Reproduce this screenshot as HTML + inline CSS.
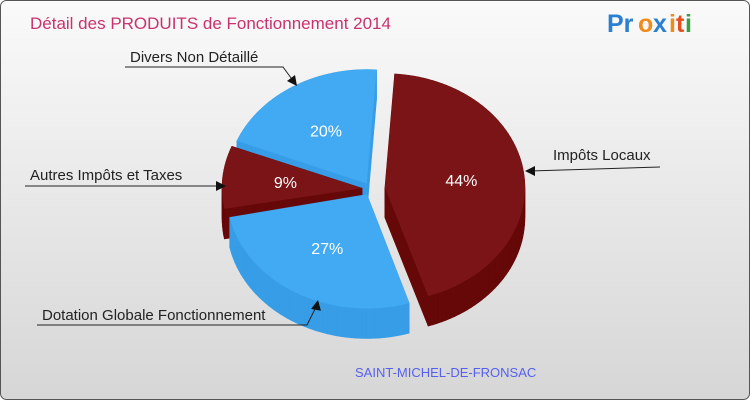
<!DOCTYPE html>
<html><head><meta charset="utf-8"><style>
html,body{margin:0;padding:0}
body{width:750px;height:400px;overflow:hidden;font-family:"Liberation Sans","DejaVu Sans",sans-serif}
</style></head><body>
<svg id="c" width="750" height="400" viewBox="0 0 750 400" xmlns="http://www.w3.org/2000/svg">
<defs><linearGradient id="bg" x1="0" y1="0" x2="0" y2="1"><stop offset="0" stop-color="#fafafa"/><stop offset="1" stop-color="#d6d6d6"/></linearGradient></defs>
<rect x="0.5" y="0.5" width="749" height="399" rx="6" fill="url(#bg)" stroke="#555"/>
<text x="30" y="29" font-size="17" fill="#c8326e">Détail des PRODUITS de Fonctionnement 2014</text>
<g font-size="25" font-weight="bold">
<text x="607" y="32" fill="#2a7fd0">Pr</text><text x="638" y="32" fill="#f08a1c">o</text><text x="653" y="32" fill="#2a7fd0">x</text><text x="669" y="32" fill="#f08a1c">i</text><text x="676" y="32" fill="#e84b1c">t</text><text x="685" y="32" fill="#3aa040">i</text>
</g>
<g id="slices"></g>
<g id="labels" font-size="15" fill="#222"></g>
<text x="355" y="377" font-size="13" fill="#5560ee">SAINT-MICHEL-DE-FRONSAC</text>
</svg>
<script>
const categories=["Impôts Locaux","Dotation Globale Fonctionnement","Autres Impôts et Taxes","Divers Non Détaillé"];
const values=[44,27,9,20];
const pctLabels=["44%","27%","9%","20%"];
const colors=["#7b1416","#42aaf2","#7b1416","#42aaf2"];
const sides=["#660808","#379de6","#660808","#379de6"];
const explode=[14,8,9,8];
const cx=371,cy=189,rx=140,ry=114,depth=30,start=-86;
const NS="http://www.w3.org/2000/svg";
const sg=document.getElementById('slices');
const total=values.reduce((a,b)=>a+b,0);
function pt(x,y,a,r){const t=a*Math.PI/180;return [x+rx*r*Math.cos(t),y+ry*r*Math.sin(t)];}
let ang=start;const sl=[];
values.forEach((v,i)=>{const sweep=v/total*360;const a0=ang,a1=ang+sweep;ang=a1;
const mid=(a0+a1)/2,t=mid*Math.PI/180;
const ox=cx+explode[i]*Math.cos(t),oy=cy+explode[i]*0.8*Math.sin(t);
const poly=[[ox,oy]];for(let a=a0;a<=a1+0.01;a+=2)poly.push(pt(ox,oy,Math.min(a,a1),1));
sl.push({i,poly,mid,ox,oy});});
sl.slice().sort((a,b)=>Math.sin(a.mid*Math.PI/180)-Math.sin(b.mid*Math.PI/180)).forEach(s=>{
const g=document.createElementNS(NS,'g');


const P=s.poly,n=P.length;
const bot=document.createElementNS(NS,'polygon');
bot.setAttribute('points',P.map(p=>p[0]+','+(p[1]+depth)).join(' '));bot.setAttribute('fill',sides[s.i]);g.appendChild(bot);
for(let k=0;k<n;k++){const a=P[k],b=P[(k+1)%n];const q=document.createElementNS(NS,'polygon');
q.setAttribute('points',`${a[0]},${a[1]} ${b[0]},${b[1]} ${b[0]},${b[1]+depth} ${a[0]},${a[1]+depth}`);
q.setAttribute('fill',sides[s.i]);q.setAttribute('stroke',sides[s.i]);q.setAttribute('stroke-width','0.6');g.appendChild(q);}
const top=document.createElementNS(NS,'polygon');
top.setAttribute('points',P.map(p=>p[0]+','+p[1]).join(' '));top.setAttribute('fill',colors[s.i]);g.appendChild(top);
const [lx,ly]=pt(s.ox,s.oy,s.mid,0.55);
const tx=document.createElementNS(NS,'text');
tx.setAttribute('x',lx);tx.setAttribute('y',ly+6);tx.setAttribute('text-anchor','middle');
tx.setAttribute('font-size','16');tx.setAttribute('fill','#fff');tx.textContent=pctLabels[s.i];


g.appendChild(tx);sg.appendChild(g);});
const lg=document.getElementById('labels');
const lab=[{t:0,x:553,y:160,line:"660,167 530,171",ax:525,ay:171},
{t:1,x:42,y:320,line:"37,325 307,325 317,305",ax:318,ay:300},
{t:2,x:30,y:180,line:"25,186 222,186",ax:226,ay:186},
{t:3,x:130,y:62,line:"125,67 283,67 294,82",ax:297,ay:86}];
lab.forEach(L=>{const g=document.createElementNS(NS,'g');


const tx=document.createElementNS(NS,'text');tx.setAttribute('x',L.x);tx.setAttribute('y',L.y);tx.textContent=categories[L.t];g.appendChild(tx);
const pl=document.createElementNS(NS,'polyline');pl.setAttribute('points',L.line);pl.setAttribute('fill','none');pl.setAttribute('stroke','#222');g.appendChild(pl);
const pts=L.line.split(' ').map(s=>s.split(',').map(Number));const [px,py]=pts[pts.length-1];
const dx=L.ax-px,dy=L.ay-py,d=Math.hypot(dx,dy)||1,ux=dx/d,uy=dy/d;
const ar=document.createElementNS(NS,'polygon');
const bx=L.ax-ux*10,by=L.ay-uy*10;
ar.setAttribute('points',`${L.ax},${L.ay} ${bx-uy*5},${by+ux*5} ${bx+uy*5},${by-ux*5}`);ar.setAttribute('fill','#111');g.appendChild(ar);
lg.appendChild(g);});
</script>
</body></html>
